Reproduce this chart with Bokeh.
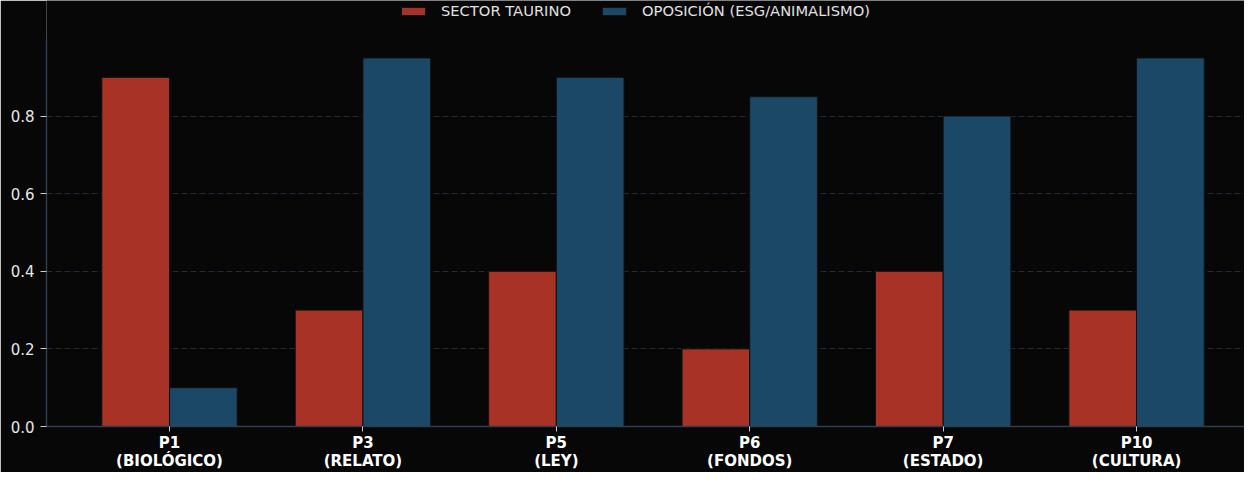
import numpy as np
from bokeh.plotting import figure
from bokeh.models import ColumnDataSource, FixedTicker, Range1d, Legend, LegendItem, NumeralTickFormatter
from bokeh.transform import dodge
from bokeh.embed import file_html
from bokeh.resources import INLINE

categories = ["P1\n(BIOLÓGICO)", "P3\n(RELATO)", "P5\n(LEY)", "P6\n(FONDOS)", "P7\n(ESTADO)", "P10\n(CULTURA)"]
sector_taurino = [0.9, 0.3, 0.4, 0.2, 0.4, 0.3]
oposicion = [0.1, 0.95, 0.9, 0.85, 0.8, 0.95]
series_names = ["SECTOR TAURINO", "OPOSICIÓN (ESG/ANIMALISMO)"]
y_ticks = [0.0, 0.2, 0.4, 0.6, 0.8]

BG = "#070707"
RED = "#a93226"
BLUE = "#1b4866"
AXIS = "#2c3e50"
FONT = "DejaVu Sans"

H = 472
BOTTOM = 46          # room for the x axis below the frame
AXIS_TOP_PX = 39     # where the y axis line starts (canvas px)
Y_TOP = 0.9975
frame_h = H - BOTTOM
y_end = Y_TOP * frame_h / (frame_h - AXIS_TOP_PX)

src = ColumnDataSource(dict(x=list(range(len(categories))), a=sector_taurino, b=oposicion))

p = figure(width=1244, height=H, output_backend="svg", toolbar_location=None,
           x_range=Range1d(-0.636, 5.558), y_range=Range1d(0, y_end),
           background_fill_color=BG, border_fill_color=BG,
           min_border_left=46, min_border_right=0, min_border_top=0, min_border_bottom=BOTTOM)
p.outline_line_color = None

w = 0.35
r1 = p.vbar(x=dodge("x", -w / 2), top="a", width=w, source=src, fill_color=RED,
            line_color="#111111", line_width=1)
r2 = p.vbar(x=dodge("x", w / 2), top="b", width=w, source=src, fill_color=BLUE,
            line_color="#111111", line_width=1)

# axes
p.xaxis.ticker = FixedTicker(ticks=list(range(len(categories))))
p.xaxis.major_label_overrides = {i: c for i, c in enumerate(categories)}
p.yaxis.ticker = FixedTicker(ticks=y_ticks)
p.yaxis.formatter = NumeralTickFormatter(format="0.0")
p.yaxis.bounds = (0, Y_TOP)
for ax in (p.xaxis[0], p.yaxis[0]):
    ax.axis_line_color = AXIS
    ax.axis_line_width = 1.5
    ax.major_tick_line_color = "#cccccc"
    ax.major_tick_in = 0
    ax.major_tick_out = 6
    ax.minor_tick_line_color = None
    ax.major_label_text_font = FONT
    ax.major_label_text_font_size = "15px"
p.xaxis.major_tick_out = 5
p.yaxis.major_label_text_color = "#e6e6e6"
p.yaxis.major_label_standoff = 6
p.xaxis.major_label_text_color = "#ffffff"
p.xaxis.major_label_text_font_style = "bold"
p.xaxis.major_label_standoff = 2
p.xaxis.major_label_text_line_height = 1.0

p.xgrid.grid_line_color = None
p.ygrid.ticker = FixedTicker(ticks=[0.2, 0.4, 0.6, 0.8])
p.ygrid.grid_line_color = "#1f2b36"
p.ygrid.grid_line_dash = "6 3"
p.ygrid.grid_line_width = 1

legend = Legend(items=[LegendItem(label=series_names[0], renderers=[r1]),
                       LegendItem(label=series_names[1], renderers=[r2])],
                location=(352, frame_h - 19), orientation="horizontal",
                background_fill_alpha=0, border_line_color=None, padding=0, margin=0,
                spacing=28, label_standoff=13, glyph_width=30, glyph_height=10,
                label_text_font=FONT, label_text_font_size="14.7px", label_text_color="#e0e0e0",
                label_height=14)
p.add_layout(legend)

open("out.html", "w").write(file_html(p, INLINE))
